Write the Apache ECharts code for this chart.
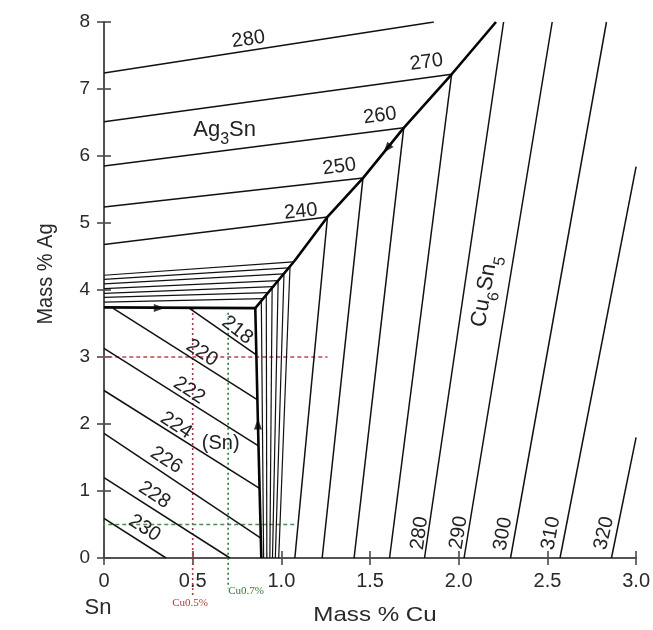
<!DOCTYPE html>
<html><head><meta charset="utf-8">
<script src="https://cdn.jsdelivr.net/npm/echarts@6/dist/echarts.min.js"></script>
<style>html,body{margin:0;padding:0;background:#fff}#c{width:653px;height:630px}</style>
</head><body><div id="c"></div>
<script>
// ---- data (mass % Cu, mass % Ag) ----
const boundaryAg3SnSn = [[0, 3.74], [0.853, 3.73]];
const boundarySnCu6Sn5 = [[0.853, 3.73], [0.868, 2.0], [0.887, 0]];
const boundaryAg3SnCu6Sn5 = [[0.853, 3.73], [1.076, 4.44], [1.26, 5.09], [1.46, 5.67], [1.69, 6.42], [1.96, 7.22], [2.21, 8.0]];

const ag3snTemps = ['240', '250', '260', '270', '280'];
const ag3snIsotherms = [
  [[0, 4.68], [1.26, 5.09]],
  [[0, 5.24], [1.46, 5.67]],
  [[0, 5.85], [1.69, 6.42]],
  [[0, 6.51], [1.96, 7.22]],
  [[0, 7.24], [1.86, 8.0]]
];
const ag3snFine = [
  [[0, 4.22], [1.067, 4.42]],
  [[0, 4.16], [1.039, 4.33]],
  [[0, 4.09], [1.011, 4.24]],
  [[0, 4.02], [0.980, 4.14]],
  [[0, 3.95], [0.952, 4.05]],
  [[0, 3.89], [0.924, 3.96]],
  [[0, 3.82], [0.896, 3.87]]
];
const cu6sn5Temps = ['240', '250', '260', '270', '280', '290', '300', '310', '320'];
const cu6sn5Isotherms = [
  [[1.26, 5.09], [1.076, 0]],
  [[1.46, 5.67], [1.23, 0]],
  [[1.69, 6.42], [1.41, 0]],
  [[1.96, 7.22], [1.61, 0]],
  [[2.253, 8], [1.807, 0]],
  [[2.527, 8], [2.03, 0]],
  [[2.833, 8], [2.292, 0]],
  [[3.0, 5.84], [2.571, 0]],
  [[3.0, 1.80], [2.861, 0]]
];
const cu6sn5Fine = [
  [[0.887, 3.84], [0.900, 0]],
  [[0.915, 3.93], [0.918, 0]],
  [[0.948, 4.04], [0.935, 0]],
  [[0.982, 4.15], [0.950, 0]],
  [[1.015, 4.26], [0.966, 0]],
  [[1.049, 4.37], [0.985, 0]]
];
const snTemps = ['218', '220', '222', '224', '226', '228', '230'];
const snIsotherms = [
  [[0.48, 3.73], [0.859, 3.03]],
  [[0.05, 3.73], [0.866, 2.36]],
  [[0, 3.13], [0.873, 1.67]],
  [[0, 2.50], [0.877, 1.04]],
  [[0, 1.86], [0.882, 0.30]],
  [[0, 1.20], [0.71, 0]],
  [[0, 0.59], [0.35, 0]]
];
const guideRedH = [[-0.41, 3], [1.26, 3]];
const guideRedV = [[0.5, 3.73], [0.5, -0.56]];
const guideGreenH = [[-0.41, 0.5], [1.09, 0.5]];
const guideGreenV = [[0.7, 3.66], [0.7, -0.45]];
const arrowPoints = [[0.312, 3.73], [0.868, 2.0], [1.595, 6.11]];
const arrowAngles = [-90, 0, 140];

const xTickLabels = ['0', '0.5', '1.0', '1.5', '2.0', '2.5', '3.0'];

// text annotations anchored in data coordinates
const annotations = [
  {t: '280', at: [0.814, 7.74], r: 8}, {t: '270', at: [1.818, 7.40], r: 8},
  {t: '260', at: [1.556, 6.60], r: 8}, {t: '250', at: [1.327, 5.84], r: 8},
  {t: '240', at: [1.11, 5.17], r: 6},
  {t: '218', at: [0.752, 3.40], r: -38}, {t: '220', at: [0.552, 3.06], r: -33},
  {t: '222', at: [0.48, 2.50], r: -33}, {t: '224', at: [0.407, 1.98], r: -33},
  {t: '226', at: [0.351, 1.46], r: -33}, {t: '228', at: [0.284, 0.94], r: -33},
  {t: '230', at: [0.229, 0.445], r: -33},
  {t: '(Sn)', at: [0.658, 1.71], r: 0},
  {t: '280', at: [1.779, 0.37], r: 82}, {t: '290', at: [2.0, 0.38], r: 81},
  {t: '300', at: [2.25, 0.36], r: 80}, {t: '310', at: [2.52, 0.37], r: 79},
  {t: '320', at: [2.82, 0.37], r: 77},
  {t: '{a|Ag}{s|3}{a|Sn}', at: [0.68, 6.37], r: 0, big: true},
  {t: '{a|Cu}{s|6}{a|Sn}{s|5}', at: [2.155, 3.98], r: 80, big: true}
];

const FONT = '"Liberation Sans", Arial, sans-serif';
const lineCol = '#111';
const textCol = '#222';

const series = [];
function addLines(list, width, color, extra) {
  list.forEach(pts => series.push(Object.assign({
    type: 'line', data: pts, showSymbol: false, symbol: 'none', silent: true,
    lineStyle: {width: width, color: color}, z: 3, animation: false
  }, extra || {})));
}
addLines(ag3snIsotherms, 1.5, lineCol);
addLines(ag3snFine, 1.2, lineCol);
addLines(cu6sn5Isotherms, 1.5, lineCol);
addLines(cu6sn5Fine, 1.2, lineCol);
addLines(snIsotherms, 1.5, lineCol);
addLines([boundaryAg3SnSn, boundarySnCu6Sn5, boundaryAg3SnCu6Sn5], 2.6, '#050505', {z: 4});
series.push({type: 'line', data: guideRedH, showSymbol: false, clip: false, animation: false, z: 2,
  lineStyle: {color: '#c0404a', width: 1.6, type: [4, 3]}});
series.push({type: 'line', data: guideRedV, showSymbol: false, clip: false, animation: false, z: 2,
  lineStyle: {color: '#a83a48', width: 1.6, type: [2, 3]}});
series.push({type: 'line', data: guideGreenH, showSymbol: false, clip: false, animation: false, z: 2,
  lineStyle: {color: '#4f8a55', width: 1.6, type: [4, 3]}});
series.push({type: 'line', data: guideGreenV, showSymbol: false, clip: false, animation: false, z: 2,
  lineStyle: {color: '#237a30', width: 1.6, type: [2, 3]}});
series.push({type: 'scatter', animation: false, z: 5, silent: true,
  data: arrowPoints.map((p, i) => ({value: p, symbolRotate: arrowAngles[i]})),
  symbol: 'triangle', symbolSize: [8, 11], itemStyle: {color: '#050505'}});
series.push({type: 'custom', animation: false, z: 6, silent: true, clip: false,
  data: annotations.map(a => a.at),
  renderItem: function (params, api) {
    const a = annotations[params.dataIndex];
    const p = api.coord([api.value(0), api.value(1)]);
    const style = {text: a.t, fill: textCol, align: 'center', verticalAlign: 'middle',
      font: '20px ' + FONT};
    if (a.big) {
      style.rich = {
        a: {fontSize: 22, fontFamily: FONT, lineHeight: 25, verticalAlign: 'top', fill: textCol},
        s: {fontSize: 16, fontFamily: FONT, lineHeight: 17, padding: [13, 0, 0, 0], verticalAlign: 'top', fill: textCol}
      };
    }
    return {type: 'text', x: p[0], y: p[1], rotation: a.r * Math.PI / 180, style: style};
  }
});

const axisLineStyle = {color: '#4a4a4a', width: 1.6};
const chart = echarts.init(document.getElementById('c'));
chart.setOption({
  animation: false,
  backgroundColor: '#fff',
  grid: {left: 104, top: 22, width: 538, height: 536},
  xAxis: [
    {type: 'value', min: 0, max: 3, interval: 0.5, position: 'bottom',
      axisLine: {show: true, lineStyle: axisLineStyle},
      axisTick: {show: true, length: 7, lineStyle: axisLineStyle},
      splitLine: {show: false},
      axisLabel: {fontSize: 20, fontFamily: FONT, color: '#2a2a2a', margin: 13,
        formatter: v => xTickLabels[Math.round(v * 2)]}},
    {type: 'value', min: 0, max: 3, interval: 0.5, position: 'top',
      axisLine: {show: true, lineStyle: axisLineStyle},
      axisTick: {show: true, length: 7, lineStyle: axisLineStyle},
      splitLine: {show: false}, axisLabel: {show: false}}
  ],
  yAxis: [
    {type: 'value', min: 0, max: 8, interval: 1, position: 'left',
      axisLine: {show: true, lineStyle: axisLineStyle},
      axisTick: {show: true, length: 7, lineStyle: axisLineStyle},
      splitLine: {show: false},
      axisLabel: {fontSize: 19, fontFamily: FONT, color: '#2a2a2a', margin: 14}},
    {type: 'value', min: 0, max: 8, interval: 1, position: 'right',
      axisLine: {show: true, lineStyle: axisLineStyle},
      axisTick: {show: true, length: 7, lineStyle: axisLineStyle},
      splitLine: {show: false}, axisLabel: {show: false}}
  ],
  graphic: [
    {type: 'text', x: 98, y: 608, style: {text: 'Sn', font: '22px ' + FONT, fill: '#2a2a2a', align: 'center', verticalAlign: 'middle'}},
    {type: 'text', x: 375, y: 615, scaleX: 1.15, style: {text: 'Mass % Cu', font: '21px ' + FONT, fill: '#2a2a2a', align: 'center', verticalAlign: 'middle'}},
    {type: 'text', x: 46, y: 274, rotation: Math.PI / 2, scaleY: 1.1, style: {text: 'Mass % Ag', font: '20px ' + FONT, fill: '#2a2a2a', align: 'center', verticalAlign: 'middle'}},
    {type: 'text', x: 190, y: 603, style: {text: 'Cu0.5%', font: '11px "Liberation Serif", serif', fill: '#b03a3a', align: 'center', verticalAlign: 'middle'}},
    {type: 'text', x: 246, y: 591, style: {text: 'Cu0.7%', font: '11px "Liberation Serif", serif', fill: '#2f7a35', align: 'center', verticalAlign: 'middle'}}
  ],
  series: series
});
</script>
</body></html>
